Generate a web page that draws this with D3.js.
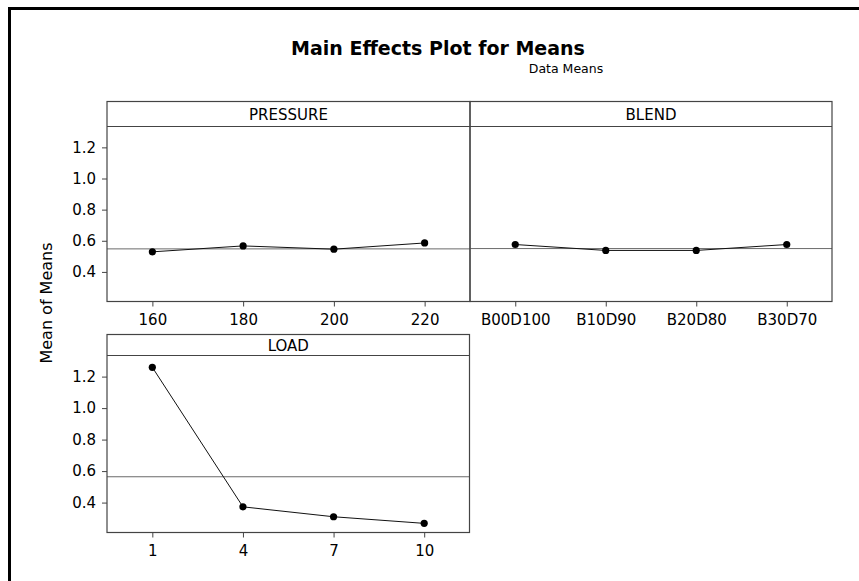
<!DOCTYPE html>
<html>
<head>
<meta charset="utf-8">
<script src="https://cdn.jsdelivr.net/npm/d3@7/dist/d3.min.js"></script>
<style>
  html, body { margin: 0; padding: 0; background: #fff; overflow: hidden; width: 859px; height: 581px; }
  svg { display: block; }
  text { font-family: "DejaVu Sans", Verdana, sans-serif; fill: #000; }
</style>
</head>
<body>
<svg id="chart" width="859" height="581" viewBox="0 0 859 581"></svg>
<script>
// ---- data ----
const pressureLevels = ["160", "180", "200", "220"];
const pressureMeans  = [0.529, 0.567, 0.546, 0.586];
const blendLevels    = ["B00D100", "B10D90", "B20D80", "B30D70"];
const blendMeans     = [0.576, 0.538, 0.538, 0.576];
const loadLevels     = ["1", "4", "7", "10"];
const loadMeans      = [1.259, 0.373, 0.310, 0.268];
const factorNames    = ["PRESSURE", "BLEND", "LOAD"];
const referenceMeans = [0.548, 0.550, 0.564];
const yTickValues    = [0.4, 0.6, 0.8, 1.0, 1.2];
const yDomain        = [0.21, 1.334];

const svg = d3.select("#chart");

svg.append("rect").attr("x", 0).attr("y", 0).attr("width", 859).attr("height", 581).attr("fill", "#fff");

// outer frame (top and left edges only are visible)
svg.append("line").attr("x1", 9.5).attr("x2", 9.5).attr("y1", 7).attr("y2", 581)
  .attr("stroke", "#000").attr("stroke-width", 3);
svg.append("line").attr("x1", 8).attr("x2", 859).attr("y1", 8.5).attr("y2", 8.5)
  .attr("stroke", "#000").attr("stroke-width", 3);

// titles
svg.append("text").attr("x", 438).attr("y", 55).attr("text-anchor", "middle")
  .attr("font-size", 19).attr("font-weight", "bold").text("Main Effects Plot for Means");
svg.append("text").attr("x", 566).attr("y", 73).attr("text-anchor", "middle")
  .attr("font-size", 12.5).attr("font-family", "'DejaVu Sans Condensed', 'DejaVu Sans', sans-serif")
  .text("Data Means");

// y label
svg.append("text").attr("transform", "translate(52,303) rotate(-90)")
  .attr("text-anchor", "middle").attr("font-size", 16).text("Mean of Means");

const panels = [
  { name: factorNames[0], levels: pressureLevels, means: pressureMeans, ref: referenceMeans[0],
    x0: 107, x1: 470, y0: 101.5, yh: 126.5, y1: 301.5, yAxis: true },
  { name: factorNames[1], levels: blendLevels, means: blendMeans, ref: referenceMeans[1],
    x0: 470, x1: 832, y0: 101.5, yh: 126.5, y1: 301.5, yAxis: false },
  { name: factorNames[2], levels: loadLevels, means: loadMeans, ref: referenceMeans[2],
    x0: 107, x1: 469.5, y0: 334.5, yh: 355.5, y1: 532.5, yAxis: true }
];

panels.forEach(p => {
  const x = d3.scalePoint().domain(p.levels).range([p.x0, p.x1]).padding(0.5);
  const y = d3.scaleLinear().domain(yDomain).range([p.y1, p.yh]);
  const g = svg.append("g");

  // reference (grand mean) line
  g.append("line").attr("x1", p.x0).attr("x2", p.x1)
    .attr("y1", y(p.ref)).attr("y2", y(p.ref))
    .attr("stroke", "#6a6a6a").attr("stroke-width", 1);

  // data line
  const pts = p.levels.map((l, i) => [x(l), y(p.means[i])]);
  g.append("path").attr("d", d3.line()(pts))
    .attr("fill", "none").attr("stroke", "#111").attr("stroke-width", 1);
  g.selectAll("circle").data(pts).join("circle")
    .attr("cx", d => d[0]).attr("cy", d => d[1]).attr("r", 3.6).attr("fill", "#000");

  // frame and strip
  g.append("rect").attr("x", p.x0).attr("y", p.y0)
    .attr("width", p.x1 - p.x0).attr("height", p.y1 - p.y0)
    .attr("fill", "none").attr("stroke", "#444").attr("stroke-width", 1.2);
  g.append("line").attr("x1", p.x0).attr("x2", p.x1)
    .attr("y1", p.yh).attr("y2", p.yh).attr("stroke", "#444").attr("stroke-width", 1.2);
  g.append("text").attr("x", (p.x0 + p.x1) / 2).attr("y", (p.y0 + p.yh) / 2 + 5.5)
    .attr("text-anchor", "middle").attr("font-size", 15)
    .attr("font-family", "'DejaVu Sans Condensed', 'DejaVu Sans', sans-serif").text(p.name);

  // x axis
  const xa = g.append("g").attr("transform", `translate(0,${p.y1})`)
    .call(d3.axisBottom(x).tickSize(5).tickSizeOuter(0).tickPadding(8));
  xa.select(".domain").remove();
  xa.selectAll("line").attr("stroke", "#444");
  xa.selectAll("text").attr("font-size", 15).attr("font-family", "DejaVu Sans");

  if (p.yAxis) {
    const ya = g.append("g").attr("transform", `translate(${p.x0},0)`)
      .call(d3.axisLeft(y).tickValues(yTickValues).tickFormat(d3.format(".1f"))
        .tickSize(5).tickSizeOuter(0).tickPadding(6));
    ya.select(".domain").remove();
    ya.selectAll("line").attr("stroke", "#444");
    ya.selectAll("text").attr("font-size", 15).attr("font-family", "DejaVu Sans");
  }
});
</script>
</body>
</html>
